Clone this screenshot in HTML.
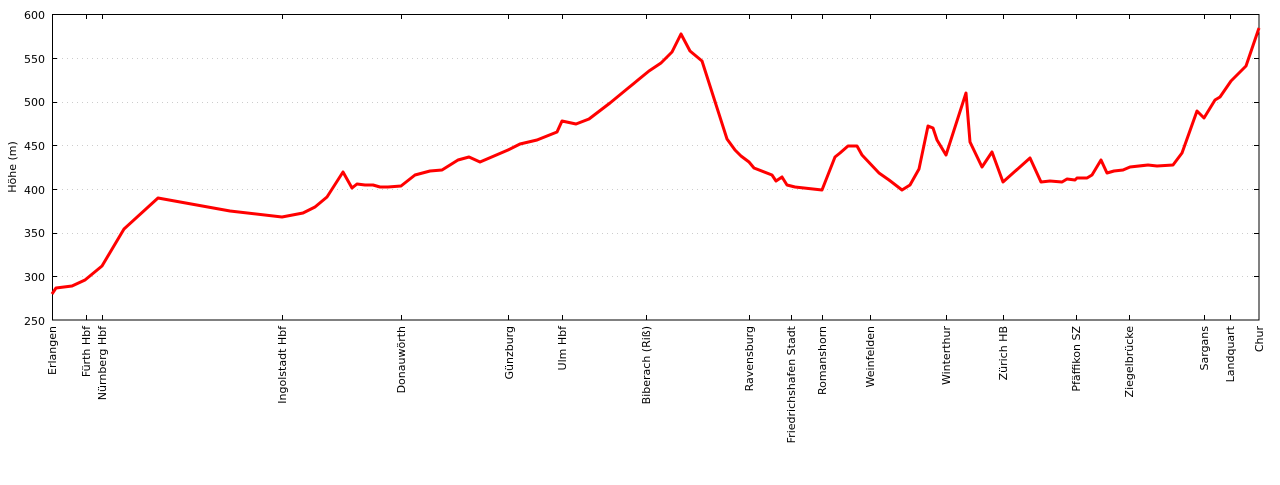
<!DOCTYPE html>
<html><head><meta charset="utf-8"><style>
html,body{margin:0;padding:0;background:#fff;}
svg text{font-family:"DejaVu Sans","Liberation Sans",sans-serif;font-size:11px;fill:#000;}
</style></head><body>
<svg width="1280" height="480" xmlns="http://www.w3.org/2000/svg">
<g stroke="#ccc" stroke-dasharray="1,4" stroke-width="1">
<line x1="52" y1="58.5" x2="1259" y2="58.5"/>
<line x1="52" y1="102.5" x2="1259" y2="102.5"/>
<line x1="52" y1="145.5" x2="1259" y2="145.5"/>
<line x1="52" y1="189.5" x2="1259" y2="189.5"/>
<line x1="52" y1="233.5" x2="1259" y2="233.5"/>
<line x1="52" y1="276.5" x2="1259" y2="276.5"/>
</g>
<rect x="52.5" y="14.5" width="1206.5" height="305.5" fill="none" stroke="#000" stroke-width="1"/>
<g stroke="#000" stroke-width="1">
<path d="M52 58.5h5M52 102.5h5M52 145.5h5M52 189.5h5M52 233.5h5M52 276.5h5M1259 58.5h-5M1259 102.5h-5M1259 145.5h-5M1259 189.5h-5M1259 233.5h-5M1259 276.5h-5"/>
<path d="M86.5 320v-5M102.5 320v-5M282.5 320v-5M401.5 320v-5M508.5 320v-5M562.5 320v-5M646.5 320v-5M749.5 320v-5M791.5 320v-5M822.5 320v-5M870.5 320v-5M946.5 320v-5M1003.5 320v-5M1076.5 320v-5M1129.5 320v-5M1204.5 320v-5M1230.5 320v-5"/>
<path d="M86.5 14v5M102.5 14v5M282.5 14v5M401.5 14v5M508.5 14v5M562.5 14v5M646.5 14v5M749.5 14v5M791.5 14v5M822.5 14v5M870.5 14v5M946.5 14v5M1003.5 14v5M1076.5 14v5M1129.5 14v5M1204.5 14v5M1230.5 14v5"/>
</g>
<g text-anchor="end">
<text x="45" y="19">600</text><text x="45" y="63">550</text><text x="45" y="106">500</text><text x="45" y="150">450</text><text x="45" y="194">400</text><text x="45" y="237">350</text><text x="45" y="281">300</text><text x="45" y="325">250</text>
</g>
<text transform="translate(16,167) rotate(-90)" text-anchor="middle">Höhe (m)</text>
<g text-anchor="end">
<text transform="translate(56,326) rotate(-90)">Erlangen</text>
<text transform="translate(90,326) rotate(-90)">Fürth Hbf</text>
<text transform="translate(106,326) rotate(-90)">Nürnberg Hbf</text>
<text transform="translate(286,326) rotate(-90)">Ingolstadt Hbf</text>
<text transform="translate(405,326) rotate(-90)">Donauwörth</text>
<text transform="translate(513,326) rotate(-90)">Günzburg</text>
<text transform="translate(566,326) rotate(-90)">Ulm Hbf</text>
<text transform="translate(650,326) rotate(-90)">Biberach (Riß)</text>
<text transform="translate(753,326) rotate(-90)">Ravensburg</text>
<text transform="translate(795,326) rotate(-90)">Friedrichshafen Stadt</text>
<text transform="translate(826,326) rotate(-90)">Romanshorn</text>
<text transform="translate(874,326) rotate(-90)">Weinfelden</text>
<text transform="translate(950,326) rotate(-90)">Winterthur</text>
<text transform="translate(1007,326) rotate(-90)">Zürich HB</text>
<text transform="translate(1080,326) rotate(-90)">Pfäffikon SZ</text>
<text transform="translate(1133,326) rotate(-90)">Ziegelbrücke</text>
<text transform="translate(1208,326) rotate(-90)">Sargans</text>
<text transform="translate(1234,326) rotate(-90)">Landquart</text>
<text transform="translate(1263,326) rotate(-90)">Chur</text>
</g>
<polyline fill="none" stroke="#f00" stroke-width="3" stroke-linejoin="round" points="52,294 56,288 60,287.5 72,286 85,280 102,266 124,229 158,198 230,211 282,217 303,213 315,207 327,197 343,172 352,188 357,184 365,185 373,185 380,187 388,187 401,186 415,175 430,171 442,170 458,160 469,157 480,162 508,150 520,144 537,140 557,132 562,121 576,124 589,119 610,103 627,89 649,71 661,63 672,52 681,34 690,51 702,61 727,139 735,150 741,156 749,162 754,168 772,175 776,181 782,177 787,185 795,187 822,190 835,157 840,153 848,146 857,146 862,155 879,173 889,180 902,190 910,185 919,169 928,126 933,128 937,140 946,155 966,93 970,142 982,167 992,152 1003,182 1030,158 1041,182 1050,181 1062,182 1067,179 1075,180 1077,178 1087,178 1092,175 1101,160 1107,173 1114,171 1123,170 1130,167 1148,165 1157,166 1173,165 1182,153 1197,111 1204,118 1215,100 1220,97 1231,81 1246,66 1259,28"/>
</svg>
</body></html>
